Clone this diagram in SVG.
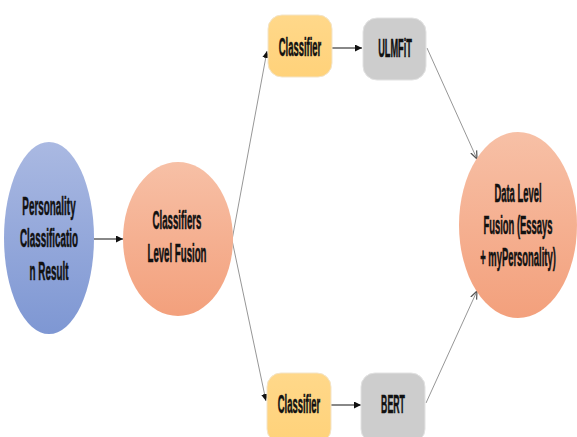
<svg xmlns="http://www.w3.org/2000/svg" width="577" height="437" viewBox="0 0 577 437">
<defs>
<linearGradient id="gBlue" x1="0" y1="0" x2="0" y2="1"><stop offset="0" stop-color="#aab9e2"/><stop offset="1" stop-color="#7e97d3"/></linearGradient>
<linearGradient id="gSalmon" x1="0" y1="0" x2="0" y2="1"><stop offset="0" stop-color="#f7c0a6"/><stop offset="1" stop-color="#f3a07c"/></linearGradient>
<linearGradient id="gYellow" x1="0" y1="0" x2="0" y2="1"><stop offset="0" stop-color="#ffd88a"/><stop offset="1" stop-color="#ffd27a"/></linearGradient>
<marker id="ah" viewBox="0 0 10 10" refX="10" refY="5" markerWidth="7" markerHeight="7" markerUnits="userSpaceOnUse" orient="auto"><path d="M0,0 L10,5 L0,10 z" fill="#111"/></marker>
<marker id="ahs" viewBox="0 0 10 10" refX="10" refY="5" markerWidth="8" markerHeight="8" markerUnits="userSpaceOnUse" orient="auto"><path d="M0,1 L10,5 L0,9" fill="none" stroke="#555" stroke-width="1.5"/></marker>
</defs>
<style>
text{font-family:"Liberation Sans",Arial,sans-serif;font-weight:bold;font-size:23px;fill:#111;stroke:#111;stroke-width:0.5;text-anchor:middle}
.thin{stroke:#8a8a8a;stroke-width:0.9;fill:none}
.thick{stroke:#888;stroke-width:2;fill:none}
.box{stroke:#f3e4c8;stroke-width:1}
.gray{fill:#cdcdcd;stroke:#e2e2e2;stroke-width:1}
</style>
<rect width="577" height="437" fill="#fff"/>
<g id="connectors">
<line class="thick" x1="94" y1="239" x2="123" y2="239" marker-end="url(#ah)"/>
<line class="thin" x1="232" y1="240" x2="267" y2="51" marker-end="url(#ah)"/>
<line class="thin" x1="232" y1="240" x2="266" y2="401" marker-end="url(#ah)"/>
<line class="thick" x1="332" y1="48" x2="362" y2="48" marker-end="url(#ah)"/>
<line class="thick" x1="331" y1="405" x2="361" y2="405" marker-end="url(#ah)"/>
<line class="thin" x1="427" y1="48" x2="477" y2="159" marker-end="url(#ahs)"/>
<line class="thin" x1="426" y1="403" x2="477" y2="291" marker-end="url(#ahs)"/>
</g>
<g id="personality">
<ellipse cx="49" cy="238" rx="45" ry="96" fill="url(#gBlue)"/>
<text transform="translate(49,215) scale(0.43,1.15)">Personality</text>
<text transform="translate(49,247) scale(0.43,1.15)">Classificatio</text>
<text transform="translate(49,280) scale(0.43,1.15)">n Result</text>
</g>
<g id="classifiers-fusion">
<ellipse cx="178" cy="239" rx="55" ry="77" fill="url(#gSalmon)"/>
<text transform="translate(177,229) scale(0.42,1.15)">Classifiers</text>
<text transform="translate(177,262) scale(0.42,1.15)">Level Fusion</text>
</g>
<g id="classifier-top">
<rect class="box" x="268" y="15" width="64" height="62" rx="14" fill="url(#gYellow)"/>
<text transform="translate(300,56) scale(0.41,1.15)">Classifier</text>
</g>
<g id="ulmfit">
<rect class="gray" x="363" y="18" width="63" height="62" rx="14"/>
<text transform="translate(395,57) scale(0.4,1.15)">ULMFiT</text>
</g>
<g id="classifier-bottom">
<rect class="box" x="267" y="373" width="64" height="70" rx="14" fill="url(#gYellow)"/>
<text transform="translate(299,413) scale(0.41,1.15)">Classifier</text>
</g>
<g id="bert">
<rect class="gray" x="361" y="373" width="64" height="70" rx="14"/>
<text transform="translate(393,413) scale(0.38,1.15)">BERT</text>
</g>
<g id="data-fusion">
<ellipse cx="518" cy="225" rx="59" ry="93" fill="url(#gSalmon)"/>
<text transform="translate(518,202) scale(0.41,1.15)">Data Level</text>
<text transform="translate(518,234) scale(0.41,1.15)">Fusion (Essays</text>
<text transform="translate(518,266) scale(0.41,1.15)">+ myPersonality)</text>
</g>
</svg>
